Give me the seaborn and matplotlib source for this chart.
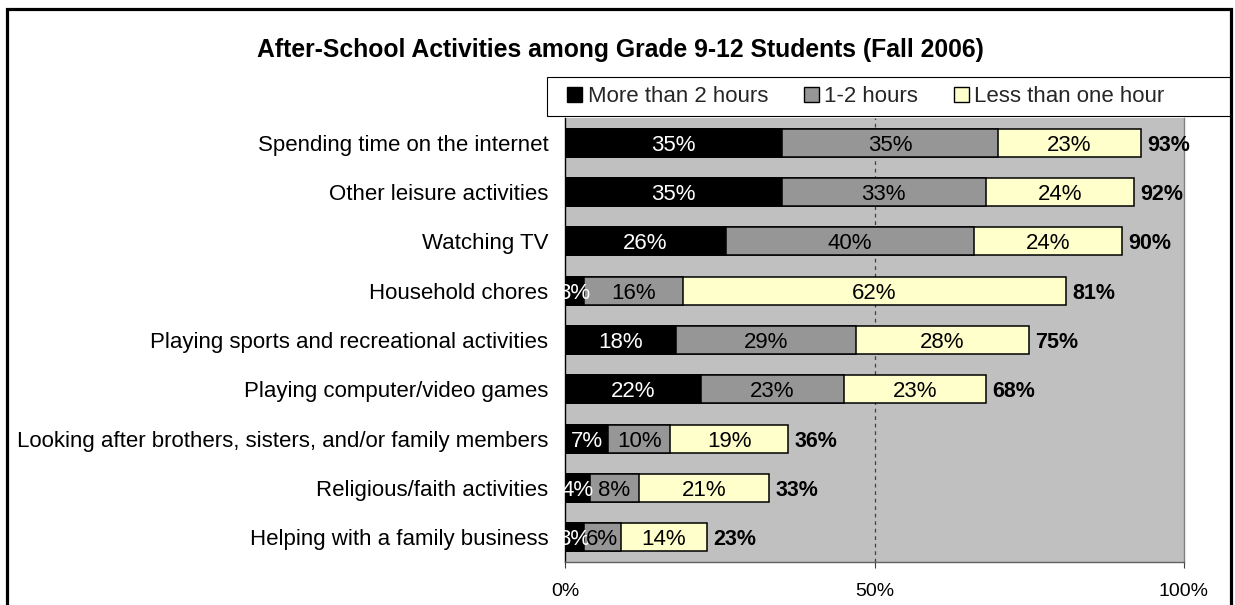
import matplotlib
matplotlib.use("Agg")
import matplotlib.pyplot as plt
from matplotlib.patches import Patch, Rectangle
import numpy as np
import pandas as pd
import seaborn as sns

# Survey data: share of students by time spent per activity (%)
activities = [
    "Spending time on the internet",
    "Other leisure activities",
    "Watching TV",
    "Household chores",
    "Playing sports and recreational activities",
    "Playing computer/video games",
    "Looking after brothers, sisters, and/or family members",
    "Religious/faith activities",
    "Helping with a family business",
]
more_than_2h = [35, 35, 26, 3, 18, 22, 7, 4, 3]
one_to_2h = [35, 33, 40, 16, 29, 23, 10, 8, 6]
less_than_1h = [23, 24, 24, 62, 28, 23, 19, 21, 14]

series_names = ["More than 2 hours", "1-2 hours", "Less than one hour"]
series_colors = ["#000000", "#969696", "#FFFFCC"]
label_colors = ["white", "black", "black"]
x_ticks = [0, 50, 100]
x_tick_labels = ["0%", "50%", "100%"]
title = "After-School Activities among Grade 9-12 Students (Fall 2006)"

sns.set_theme(style="white")
plt.rcParams["font.family"] = ["Liberation Sans", "DejaVu Sans"]

W, H = 1235, 605
fig = plt.figure(figsize=(W / 100, H / 100), dpi=100)
fig.patch.set_facecolor("white")
ax = fig.add_axes([565 / W, 1 - 562 / H, (1184 - 565) / W, (562 - 118) / H])
ax.set_facecolor("#C0C0C0")

df = pd.DataFrame({
    "activity": activities,
    "a": more_than_2h,
    "b": one_to_2h,
    "c": less_than_1h,
})
df["ab"] = df["a"] + df["b"]
df["abc"] = df["ab"] + df["c"]

# Stacked bars: draw the running totals from longest to shortest
for col, color in zip(["abc", "ab", "a"], series_colors[::-1]):
    sns.barplot(data=df, x=col, y="activity", order=activities, orient="h",
                color=color, saturation=1, edgecolor="black", linewidth=1.1,
                width=0.57, errorbar=None, ax=ax, zorder=2)

ax.axvline(50, color="#404040", linestyle=(0, (3, 3)), linewidth=0.9, zorder=1)

# Segment labels
starts = [np.zeros(len(df)), df["a"].values, df["ab"].values]
widths = [df["a"].values, df["b"].values, df["c"].values]
for s, w, tc in zip(starts, widths, label_colors):
    for i, (st, wd) in enumerate(zip(s, w)):
        ax.text(st + wd / 2, i, f"{wd}%", ha="center", va="center_baseline",
                color=tc, fontsize=16, zorder=5)

# Totals at the end of each bar
for i, tot in enumerate(df["abc"].values):
    ax.annotate(f"{tot}%", xy=(tot, i), xytext=(4.5, 0), textcoords="offset points",
                ha="left", va="center_baseline", fontsize=15.5, fontweight="bold",
                color="black", annotation_clip=False, zorder=5)

ax.set_xlim(0, 100)
ax.set_ylim(len(activities) - 0.5, -0.5)
ax.set_xticks(x_ticks)
ax.set_xticklabels(x_tick_labels, fontsize=14)
ax.set_xlabel("")
ax.set_ylabel("")
ax.tick_params(axis="y", length=0, pad=12, labelsize=16, labelcolor="black")
for lbl in ax.get_yticklabels():
    lbl.set_verticalalignment("center_baseline")
ax.tick_params(axis="x", length=4, width=0.8, color="#404040", pad=11,
               labelcolor="black", bottom=True)

for side in ["left", "bottom", "right"]:
    ax.spines[side].set_visible(True)
ax.spines["left"].set_color("black")
ax.spines["left"].set_linewidth(1.0)
ax.spines["bottom"].set_color("#606060")
ax.spines["bottom"].set_linewidth(1.0)
ax.spines["right"].set_color("#808080")
ax.spines["right"].set_linewidth(1.0)
ax.spines["top"].set_visible(False)

# Title
fig.text(620 / W, 1 - 48 / H, title, ha="center", va="center_baseline",
         fontsize=17.8, fontweight="bold", color="black")

# Legend box and entries
fig.patches.append(Rectangle((547 / W, 1 - 116 / H), (1231 - 547) / W, 39 / H,
                             transform=fig.transFigure, fill=False,
                             edgecolor="black", linewidth=0.8, zorder=3))
handles = [Patch(facecolor=c, edgecolor="black", linewidth=1.0) for c in series_colors]
fig.legend(handles, series_names, loc="center left",
           bbox_to_anchor=(567 / W, 1 - 96.5 / H), ncol=3, frameon=False,
           fontsize=16, handlelength=0.68, handleheight=0.68,
           handletextpad=0.25, columnspacing=1.6, borderpad=0, borderaxespad=0)

# Outer frame
fig.patches.append(Rectangle((7 / W, -0.1), (1231 - 7) / W, 1.1 - 9 / H,
                             transform=fig.transFigure, fill=False,
                             edgecolor="black", linewidth=2.3, zorder=4))

fig.savefig("out.png", dpi=100)
